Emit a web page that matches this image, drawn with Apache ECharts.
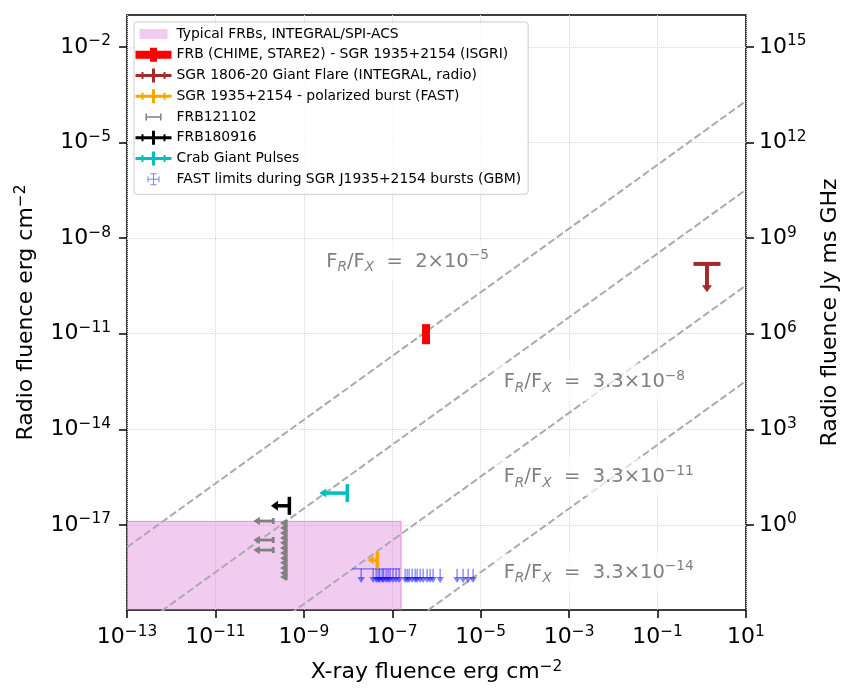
<!DOCTYPE html>
<html>
<head>
<meta charset="utf-8">
<script src="https://cdn.jsdelivr.net/npm/echarts@6/dist/echarts.min.js"></script>
<style>html,body{margin:0;padding:0;background:#fff}#chart{width:850px;height:700px}</style>
</head>
<body>
<div id="chart"></div>
<script>
// ---------------- data ----------------
const xRange = [1e-13, 1e1];            // X-ray fluence erg cm^-2
const yRange = [2.15e-20, 1e-1];        // Radio fluence erg cm^-2
const radioUnitDecades = 17;            // erg cm^-2 -> Jy ms GHz (decades)
const xTickExps = [-13, -11, -9, -7, -5, -3, -1, 1];
const yTickExps = [-17, -14, -11, -8, -5, -2];
const yRightTickExps = [0, 3, 6, 9, 12, 15];

// Typical FRBs region (INTEGRAL/SPI-ACS)
const frbRegionX = [1e-13, 1.58e-7];
const frbRegionY = [1e-21, 1.3e-17];

// F_R / F_X ratio lines and their labels
const ratioValues = [2e-5, 3.3e-8, 3.3e-11, 3.3e-14];
const ratioLabelX = [3.2e-9, 3.3e-5, 3.3e-5, 3.3e-5];
const ratioLabelY = [1.8e-9, 3.0e-13, 3.2e-16, 3.2e-19];

// FRB (CHIME, STARE2) - SGR 1935+2154 (ISGRI)
const frbSgrX = [5.8e-7];
const frbSgrYLow = [4.7e-12];
const frbSgrYHigh = [2.0e-11];

// SGR 1806-20 Giant Flare (upper limit in radio)
const sgr1806X = [1.31];
const sgr1806Y = [1.55e-9];
const sgr1806YArrow = [2.0e-10];

// SGR 1935+2154 polarized burst (FAST) (upper limit in X-ray)
const fastBurstX = [4.6e-8];
const fastBurstY = [7.9e-19];
const fastBurstXArrow = [2.75e-8];

// FRB121102 (X-ray upper limits)
const frb121102X = [2.03e-10, 2.03e-10, 2.03e-10,
  4.0e-10, 4.0e-10, 4.0e-10, 4.0e-10, 4.0e-10, 4.0e-10, 4.0e-10, 4.0e-10, 4.0e-10, 4.0e-10, 4.0e-10, 4.0e-10];
const frb121102XArrow = [7.2e-11, 7.2e-11, 7.2e-11,
  2.9e-10, 2.9e-10, 2.9e-10, 2.9e-10, 2.9e-10, 2.9e-10, 2.9e-10, 2.9e-10, 2.9e-10, 2.9e-10, 2.9e-10, 2.9e-10];
const frb121102Y = [1.33e-17, 3.37e-18, 1.63e-18,
  1.15e-17, 8.1e-18, 5.6e-18, 3.9e-18, 2.75e-18, 1.9e-18, 1.32e-18, 9.1e-19, 6.5e-19, 4.5e-19, 3.1e-19, 2.35e-19];

// FRB180916
const frb180916X = [4.7e-10];
const frb180916Y = [4.0e-17];
const frb180916XArrow = [1.8e-10];

// Crab Giant Pulses
const crabX = [9.6e-9];
const crabY = [1.0e-16];
const crabXArrow = [2.24e-9];

// FAST limits during SGR J1935+2154 bursts (GBM)
const fastLimitX = [1.98e-8, 3.69e-8, 4.32e-8, 4.79e-8, 5.18e-8, 5.90e-8, 6.38e-8, 7.26e-8, 8.05e-8, 8.95e-8,
  1.04e-7, 1.22e-7, 1.43e-7, 1.95e-7, 2.17e-7, 2.40e-7, 2.81e-7, 3.29e-7, 3.65e-7, 4.27e-7,
  4.99e-7, 6.14e-7, 7.18e-7, 8.39e-7, 1.21e-6, 2.92e-6, 4.00e-6, 5.19e-6, 6.73e-6];
const fastLimitY = 4.2e-19;
const fastLimitYArrow = 1.51e-19;
const fastLimitSpanX = [1.26e-8, 1.51e-7];   // x-error of the first burst

// ---------------- helpers ----------------
const FONT = 'DejaVu Sans';
const L = Math.log10;
const fmtExp = e => (e < 0 ? '\u2212' : '') + Math.abs(e);
const tickFormatter = v => '{b|10}{s|' + fmtExp(Math.round(v)) + '}';
const tickRich = {
  b: {fontSize: 22, fontFamily: FONT, color: '#000', lineHeight: 26},
  s: {fontSize: 15.4, fontFamily: FONT, color: '#000', lineHeight: 14, verticalAlign: 'top'}
};
const nameRich = {s: {fontSize: 15.4, fontFamily: FONT, color: '#000', lineHeight: 14, verticalAlign: 'top'}};

const COL = {
  pink: 'rgba(218,112,214,0.36)', pinkEdge: 'rgba(218,112,214,0.7)',
  red: '#ff0000', brown: '#a52a2a', orange: '#ffa500', gray: '#808080',
  black: '#000000', cyan: '#00bfbf', blue: 'rgba(0,0,255,0.5)', ratio: '#ababab'
};

function lineEl(x1, y1, x2, y2, color, w) {
  return {type: 'line', shape: {x1, y1, x2, y2}, style: {stroke: color, lineWidth: w, lineCap: 'butt'}};
}
function polyEl(points, color) {
  return {type: 'polygon', shape: {points}, style: {fill: color}};
}
// X upper limit: cap at x, arrow pointing left to xArrow
function renderLeftLimit(color, lw, capHalf, headLen, headHalf) {
  return function (params, api) {
    const p = api.coord([api.value(0), api.value(1)]);
    const t = api.coord([api.value(2), api.value(1)]);
    return {type: 'group', children: [
      lineEl(t[0] + headLen - 1, p[1], p[0], p[1], color, lw),
      lineEl(p[0], p[1] - capHalf, p[0], p[1] + capHalf, color, lw),
      polyEl([[t[0], p[1]], [t[0] + headLen, p[1] - headHalf], [t[0] + headLen, p[1] + headHalf]], color)
    ]};
  };
}

const xyData = (xs, ys, arr) => xs.map((x, i) => [L(x), L(ys[i]), L(arr[i])]);

// ---------------- chart ----------------
const chart = echarts.init(document.getElementById('chart'), null, {renderer: 'canvas'});
const yMin = L(yRange[0]), yMax = L(yRange[1]);

const ratioSeries = ratioValues.map((r, i) => ({
  name: 'ratio' + i, type: 'line', z: 3, silent: true, symbol: 'none', clip: true,
  data: [[L(xRange[0]), L(r) + L(xRange[0])], [L(xRange[1]), L(r) + L(xRange[1])]],
  lineStyle: {color: COL.ratio, width: 2, type: [7.4, 3.2]}
}));

const labelSeries = {
  name: 'ratioLabels', type: 'custom', z: 4, silent: true,
  data: ratioLabelX.map((x, i) => [L(x), L(ratioLabelY[i]), i]),
  renderItem: function (params, api) {
    const i = api.value(2);
    const r = ratioValues[i];
    const e = Math.floor(L(r) + 1e-9);
    const m = parseFloat((r / Math.pow(10, e)).toPrecision(2));
    const p = api.coord([api.value(0), api.value(1)]);
    return {type: 'text', x: p[0] - 8, y: p[1], style: {
      text: 'F{sub|R}/F{sub|X}  =  ' + m + '\u00d710{sup|' + fmtExp(e) + '}',
      fontSize: 19.5, fontFamily: FONT, fill: '#808080', lineHeight: 26,
      align: 'left', verticalAlign: 'middle',
      backgroundColor: 'rgba(255,255,255,0.65)', padding: [6, 8, 6, 8],
      rich: {
        sub: {fontSize: 13.7, fontFamily: FONT, fontStyle: 'italic', fill: '#808080', lineHeight: 13, verticalAlign: 'bottom'},
        sup: {fontSize: 13.7, fontFamily: FONT, fill: '#808080', lineHeight: 13, verticalAlign: 'top'}
      }
    }};
  }
};

const series = [
  {
    name: 'Typical FRBs, INTEGRAL/SPI-ACS', type: 'custom', z: 1, clip: true,
    itemStyle: {color: COL.pink},
    data: [[L(frbRegionX[0]), L(frbRegionY[0]), L(frbRegionX[1]), L(frbRegionY[1])]],
    renderItem: function (params, api) {
      const a = api.coord([api.value(0), api.value(1)]);
      const b = api.coord([api.value(2), api.value(3)]);
      return {type: 'rect', shape: {x: a[0], y: b[1], width: b[0] - a[0], height: a[1] - b[1]},
        style: {fill: COL.pink, stroke: COL.pinkEdge, lineWidth: 1}};
    }
  },
  ...ratioSeries,
  labelSeries,
  {
    name: 'FRB (CHIME, STARE2) - SGR 1935+2154 (ISGRI)', type: 'custom', z: 6, clip: true,
    itemStyle: {color: COL.red},
    data: frbSgrX.map((x, i) => [L(x), L(frbSgrYLow[i]), L(frbSgrYHigh[i])]),
    renderItem: function (params, api) {
      const lo = api.coord([api.value(0), api.value(1)]);
      const hi = api.coord([api.value(0), api.value(2)]);
      return {type: 'rect', shape: {x: lo[0] - 4, y: hi[1], width: 8, height: lo[1] - hi[1]}, style: {fill: COL.red}};
    }
  },
  {
    name: 'SGR 1806-20 Giant Flare (INTEGRAL, radio)', type: 'custom', z: 6, clip: true,
    itemStyle: {color: COL.brown},
    data: xyData(sgr1806X, sgr1806Y, sgr1806YArrow),
    renderItem: function (params, api) {
      const p = api.coord([api.value(0), api.value(1)]);
      const t = api.coord([api.value(0), api.value(2)]);
      return {type: 'group', children: [
        lineEl(p[0] - 13.5, p[1], p[0] + 13.5, p[1], COL.brown, 4),
        lineEl(p[0], p[1], p[0], t[1] - 6, COL.brown, 4),
        polyEl([[p[0], t[1]], [p[0] - 5, t[1] - 7], [p[0] + 5, t[1] - 7]], COL.brown)
      ]};
    }
  },
  {
    name: 'SGR 1935+2154 - polarized burst (FAST)', type: 'custom', z: 6, clip: true,
    itemStyle: {color: COL.orange},
    data: xyData(fastBurstX, fastBurstY, fastBurstXArrow),
    renderItem: renderLeftLimit(COL.orange, 3.5, 8.3, 6, 4.5)
  },
  {
    name: 'FRB121102', type: 'custom', z: 6, clip: true,
    itemStyle: {color: COL.gray},
    data: xyData(frb121102X, frb121102Y, frb121102XArrow),
    renderItem: renderLeftLimit(COL.gray, 2.8, 3, 6.5, 4.2)
  },
  {
    name: 'FRB180916', type: 'custom', z: 6, clip: true,
    itemStyle: {color: COL.black},
    data: xyData(frb180916X, frb180916Y, frb180916XArrow),
    renderItem: renderLeftLimit(COL.black, 3.5, 9, 7, 5)
  },
  {
    name: 'Crab Giant Pulses', type: 'custom', z: 6, clip: true,
    itemStyle: {color: COL.cyan},
    data: xyData(crabX, crabY, crabXArrow),
    renderItem: renderLeftLimit(COL.cyan, 3.5, 9, 7, 4.5)
  },
  {
    name: 'FAST limits during SGR J1935+2154 bursts (GBM)', type: 'custom', z: 5, clip: true,
    itemStyle: {color: COL.blue},
    data: fastLimitX.map((x, i) => [L(x), L(fastLimitY), L(fastLimitYArrow),
      L(i === 0 ? fastLimitSpanX[0] : x), L(i === 0 ? fastLimitSpanX[1] : x)]),
    renderItem: function (params, api) {
      const p = api.coord([api.value(0), api.value(1)]);
      const t = api.coord([api.value(0), api.value(2)]);
      const lo = api.coord([api.value(3), api.value(1)]);
      const hi = api.coord([api.value(4), api.value(1)]);
      const ch = [
        lineEl(p[0], p[1], p[0], t[1] - 5, COL.blue, 1.3),
        polyEl([[p[0], t[1]], [p[0] - 3.8, t[1] - 6], [p[0] + 3.8, t[1] - 6]], COL.blue)
      ];
      if (hi[0] - lo[0] > 1) ch.push(lineEl(lo[0], p[1], hi[0], p[1], COL.blue, 1.3));
      return {type: 'group', children: ch};
    }
  }
];

const ANCH = ' M0 0 H0.001 V0.001 Z M36 14 H35.999 V13.999 Z';
const ERRBAR_ICON = 'path://M0 5.5H36V8.5H0Z M16.5 0H19.5V14H16.5Z M6 3.5H8V10.5H6Z M28 3.5H30V10.5H28Z';
const legendData = [
  {name: 'Typical FRBs, INTEGRAL/SPI-ACS', icon: 'path://M4 2H32V12H4Z' + ANCH},
  {name: 'FRB (CHIME, STARE2) - SGR 1935+2154 (ISGRI)', icon: 'path://M0 3H36V11H0Z M14.5 0H21.5V14H14.5Z'},
  {name: 'SGR 1806-20 Giant Flare (INTEGRAL, radio)', icon: ERRBAR_ICON},
  {name: 'SGR 1935+2154 - polarized burst (FAST)', icon: ERRBAR_ICON},
  {name: 'FRB121102', icon: 'path://M10 3.5H11.5V10.5H10Z M24.5 3.5H26V10.5H24.5Z M10 6.25H26V7.75H10Z' + ANCH},
  {name: 'FRB180916', icon: ERRBAR_ICON},
  {name: 'Crab Giant Pulses', icon: ERRBAR_ICON},
  {name: 'FAST limits during SGR J1935+2154 bursts (GBM)',
   icon: 'path://M17.5 1H18.5V13H17.5Z M15 1H21V2H15Z M15 12H21V13H15Z M12 6.5H24V7.5H12Z M12 4H13V10H12Z M23 4H24V10H23Z' + ANCH}
];

const option = {
  animation: false,
  backgroundColor: '#ffffff',
  textStyle: {fontFamily: FONT},
  grid: {left: 127, right: 104, top: 15, bottom: 90, containLabel: false, outerBoundsMode: 'none',
    show: true, borderColor: '#000', borderWidth: 1.5, backgroundColor: 'transparent'},
  legend: {
    left: 134, top: 22, orient: 'vertical', selectedMode: false,
    itemWidth: 36, itemHeight: 14, itemGap: 6.75,
    padding: [5, 7, 8, 1.5],
    backgroundColor: 'rgba(255,255,255,0.8)', borderColor: '#cccccc', borderWidth: 1, borderRadius: 3,
    itemStyle: {borderWidth: 0},
    textStyle: {fontFamily: FONT, fontSize: 13.9, color: '#000', lineHeight: 14},
    data: legendData, z: 10
  },
  xAxis: {
    type: 'value', min: L(xRange[0]), max: L(xRange[1]),
    name: 'X-ray fluence erg cm{s|\u22122}', nameLocation: 'middle', nameGap: 49,
    nameTextStyle: {fontSize: 22, fontFamily: FONT, color: '#000', lineHeight: 26, rich: nameRich},
    axisLine: {show: false, onZero: false},
    axisTick: {show: true, length: 8, customValues: xTickExps, lineStyle: {color: '#000', width: 1.5}},
    axisLabel: {customValues: xTickExps, margin: 14, formatter: tickFormatter, rich: tickRich},
    splitLine: {show: true, lineStyle: {type: 'dotted', color: '#d8d8d8', width: 1}}
  },
  yAxis: [
    {
      type: 'value', min: yMin, max: yMax, position: 'left',
      name: 'Radio fluence erg cm{s|\u22122}', nameLocation: 'middle', nameGap: 87, nameRotate: 90,
      nameTextStyle: {fontSize: 22, fontFamily: FONT, color: '#000', lineHeight: 26, rich: nameRich},
      axisLine: {show: false, onZero: false},
      axisTick: {show: true, length: 8, customValues: yTickExps, lineStyle: {color: '#000', width: 1.5}},
      axisLabel: {customValues: yTickExps, margin: 16, formatter: tickFormatter, rich: tickRich},
      splitLine: {show: true, lineStyle: {type: 'dotted', color: '#d8d8d8', width: 1}}
    },
    {
      type: 'value', min: yMin + radioUnitDecades, max: yMax + radioUnitDecades, position: 'right',
      name: 'Radio fluence Jy ms GHz', nameLocation: 'middle', nameGap: 58, nameRotate: 90,
      nameTextStyle: {fontSize: 22, fontFamily: FONT, color: '#000', lineHeight: 26},
      axisLine: {show: false, onZero: false},
      axisTick: {show: true, length: 8, customValues: yRightTickExps, lineStyle: {color: '#000', width: 1.5}},
      axisLabel: {customValues: yRightTickExps, margin: 13, formatter: tickFormatter, rich: tickRich},
      splitLine: {show: false}
    }
  ],
  series: series
};
chart.setOption(option);
</script>
</body>
</html>
